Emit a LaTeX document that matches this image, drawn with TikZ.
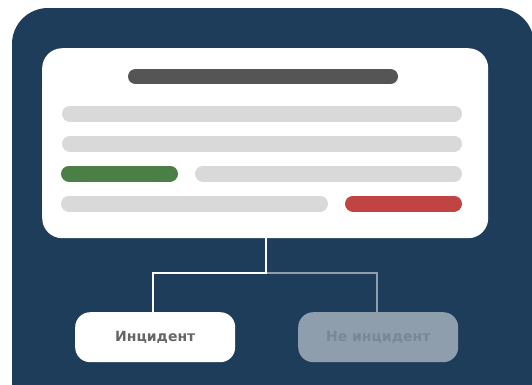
\documentclass[tikz,border=0pt]{standalone}
\usepackage{fontspec}
\setmainfont{Liberation Sans}
\newfontfamily\labelfont{DejaVu Sans}
\definecolor{panel}{HTML}{1E3D5A}
\definecolor{barlight}{HTML}{D9D9D9}
\definecolor{bardark}{HTML}{555555}
\definecolor{bargreen}{HTML}{4C7F46}
\definecolor{barred}{HTML}{C04444}
\definecolor{muted}{HTML}{8E9EAC}
\definecolor{labelgray}{HTML}{666666}
\definecolor{mutedtext}{HTML}{7A8794}
\tikzset{
  bar/.style={line width=16pt, line cap=round},
  link/.style={line width=2.5pt},
  choice/.style={rounded corners=15pt, minimum width=160pt, minimum height=50pt,
    inner sep=0pt, font=\labelfont\bfseries\fontsize{14}{16}\selectfont, anchor=north west}
}
\begin{document}
\begin{tikzpicture}[x=1pt,y=-1pt]
\useasboundingbox (0,0) rectangle (532,384);
\fill[white] (0,0) rectangle (532,384);
\begin{scope}
\clip (0,0) rectangle (532,384);
\fill[panel, rounded corners=36pt] (12,8) rectangle (534,430);
\end{scope}
% card
\node[fill=white, rounded corners=20pt, minimum width=446pt, minimum height=190pt,
  inner sep=0pt, anchor=north west] (card) at (42,48) {};
% bars
\draw[bar, bardark, line width=15pt] (135.5,76.5) -- (390.5,76.5);
\draw[bar, barlight] (70,113.5) -- (454,113.5);
\draw[bar, barlight] (70,143.5) -- (454,143.5);
\draw[bar, bargreen] (69,173.5) -- (170,173.5);
\draw[bar, barlight] (203,173.5) -- (454,173.5);
\draw[bar, barlight] (69,203.5) -- (320,203.5);
\draw[bar, barred] (353,203.5) -- (454,203.5);
% choices
\node[choice, fill=white, text=labelgray] (yes) at (75,312) {Инцидент};
\node[choice, fill=muted, text=mutedtext] (no) at (298,312) {Не инцидент};
% connectors
\coordinate (split) at (266,273);
\draw[link, muted] (split) -| (no.north -| 377,0);
\draw[link, white] (card.south -| split) -- (split) -| (yes.north -| 153,0);
\end{tikzpicture}
\end{document}
